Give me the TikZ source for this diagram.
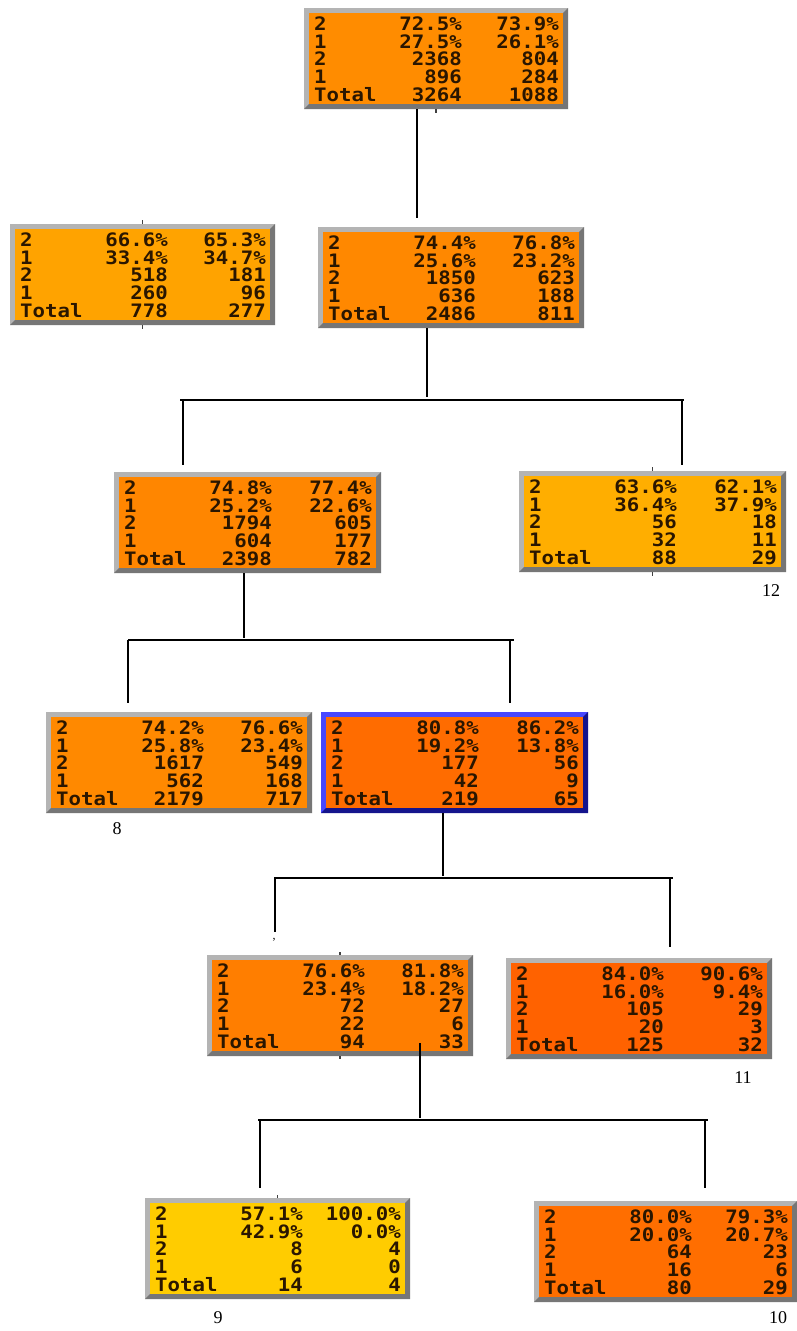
\documentclass[tikz,border=0pt]{standalone}
\usepackage{fontspec}
\newfontfamily\boxfont[FakeStretch=1.12]{DejaVu Sans Mono}
\newfontfamily\lblfont{Liberation Serif}
\definecolor{framegray}{HTML}{9C9C9C}
\definecolor{bevL}{HTML}{B4B4B4}
\definecolor{bevD}{HTML}{767676}
\definecolor{blueM}{HTML}{2F2FE0}
\definecolor{blueL}{HTML}{4848FF}
\definecolor{blueD}{HTML}{14148C}
\definecolor{txt}{HTML}{2A1600}
\definecolor{cRoot}{HTML}{FF8C00}
\definecolor{cA}{HTML}{FFA300}
\definecolor{cB}{HTML}{FF8800}
\definecolor{cC}{HTML}{FF8600}
\definecolor{cD}{HTML}{FFAE00}
\definecolor{cE}{HTML}{FF8900}
\definecolor{cF}{HTML}{FF6C00}
\definecolor{cG}{HTML}{FF7E00}
\definecolor{cH}{HTML}{FF6200}
\definecolor{cI}{HTML}{FFCC00}
\definecolor{cJ}{HTML}{FF6E00}
\tikzset{
  tbox/.style={anchor=north west, minimum height=101pt, inner sep=0pt, outer sep=0pt, draw=none, fill=framegray},
  bevlight/.style={fill=bevL},
  bevdark/.style={fill=bevD},
  cell/.style={font=\boxfont\bfseries\fontsize{18.5}{19}\selectfont, text=txt, inner sep=0pt},
  link/.style={line width=2.4pt, black},
  tick/.style={line width=1.4pt, black!75},
  lbl/.style={font=\lblfont\fontsize{18}{19}\selectfont, inner sep=0pt}
}
\newcommand\tbox[6]{%
  \node[tbox, minimum width=#4pt] (#1) at (#2,#3) {};
  \fill[bevlight] (#1.north west) -- (#1.north east) -- ([shift={(-5,5)}]#1.north east)
     -- ([shift={(5,5)}]#1.north west) -- ([shift={(5,-5)}]#1.south west) -- (#1.south west) -- cycle;
  \fill[bevdark] (#1.south east) -- (#1.north east) -- ([shift={(-5,5)}]#1.north east)
     -- ([shift={(-5,-5)}]#1.south east) -- ([shift={(5,-5)}]#1.south west) -- (#1.south west) -- cycle;
  \fill[#5] ([shift={(5,5)}]#1.north west) rectangle ([shift={(-5,-5)}]#1.south east);
  \foreach \a/\b/\c [count=\i] in {#6} {
    \pgfmathsetmacro\ry{4.5+17.75*\i}
    \node[cell, anchor=base west] at ([shift={(10,\ry)}]#1.north west) {\a};
    \node[cell, anchor=base east] at ([shift={(158,\ry)}]#1.north west) {\b};
    \node[cell, anchor=base east] at ([shift={(-9,\ry)}]#1.north east) {\c};
  }
}
\begin{document}
\begin{tikzpicture}[x=1pt,y=-1pt]
\useasboundingbox (0,0) rectangle (796,1331);
\fill[white] (0,0) rectangle (796,1331);

\tbox{root}{304}{8}{264}{cRoot}{2/72.5\%/73.9\%, 1/27.5\%/26.1\%, 2/2368/804, 1/896/284, Total/3264/1088}
\tbox{na}{10}{224}{265}{cA}{2/66.6\%/65.3\%, 1/33.4\%/34.7\%, 2/518/181, 1/260/96, Total/778/277}
\tbox{nb}{318}{227}{266}{cB}{2/74.4\%/76.8\%, 1/25.6\%/23.2\%, 2/1850/623, 1/636/188, Total/2486/811}
\tbox{nc}{114}{472}{267}{cC}{2/74.8\%/77.4\%, 1/25.2\%/22.6\%, 2/1794/605, 1/604/177, Total/2398/782}
\tbox{nd}{519}{471}{267}{cD}{2/63.6\%/62.1\%, 1/36.4\%/37.9\%, 2/56/18, 1/32/11, Total/88/29}
\tbox{ne}{46}{712}{266}{cE}{2/74.2\%/76.6\%, 1/25.8\%/23.4\%, 2/1617/549, 1/562/168, Total/2179/717}
\begin{scope}[bevlight/.style={fill=blueL}, bevdark/.style={fill=blueD}, tbox/.append style={fill=blueM}]
\tbox{nf}{321}{712}{267}{cF}{2/80.8\%/86.2\%, 1/19.2\%/13.8\%, 2/177/56, 1/42/9, Total/219/65}
\end{scope}
\tbox{ng}{207}{955}{266}{cG}{2/76.6\%/81.8\%, 1/23.4\%/18.2\%, 2/72/27, 1/22/6, Total/94/33}
\tbox{nh}{506}{958}{266}{cH}{2/84.0\%/90.6\%, 1/16.0\%/9.4\%, 2/105/29, 1/20/3, Total/125/32}
\tbox{ni}{145}{1198}{265}{cI}{2/57.1\%/100.0\%, 1/42.9\%/0.0\%, 2/8/4, 1/6/0, Total/14/4}
\tbox{nj}{534}{1201}{263}{cJ}{2/80.0\%/79.3\%, 1/20.0\%/20.7\%, 2/64/23, 1/16/6, Total/80/29}

% small ticks on box edges
\draw[tick] (root.south) -- ++(0,4);
\draw[tick] (na.north) -- ++(0,-4);
\draw[tick] (na.south) -- ++(0,4);
\draw[tick] (nd.north) -- ++(0,-4);
\draw[tick] (nd.south) -- ++(0,4);
\draw[tick] (ng.north) -- ++(0,-3);
\draw[tick] (ng.south) -- ++(0,3);
\draw[tick] (ni.north) -- ++(0,-3);

% connectors
\coordinate (a1) at (417,218);
\draw[link] (root.south -| a1) -- (a1);

\coordinate (b0) at (427,397);
\coordinate (b1) at (180,400);
\coordinate (b2) at (684,400);
\coordinate (b3) at (183,465);
\coordinate (b4) at (682,465);
\draw[link] (nb.south -| b0) -- (b0);
\draw[link] (b1) -- (b2);
\draw[link] (b1 -| b3) -- (b3);
\draw[link] (b2 -| b4) -- (b4);

\coordinate (c0) at (244,638);
\coordinate (c1) at (128,640);
\coordinate (c2) at (514,640);
\coordinate (c3) at (128,703);
\coordinate (c4) at (510,703);
\draw[link] (nc.south -| c0) -- (c0);
\draw[link] (c1) -- (c2);
\draw[link] (c1) -- (c3);
\draw[link] (c2 -| c4) -- (c4);

\coordinate (d0) at (443,876);
\coordinate (d1) at (274,878);
\coordinate (d2) at (673,878);
\coordinate (d3) at (275,932);
\coordinate (d4) at (670,947);
\draw[link] (nf.south -| d0) -- (d0);
\draw[link] (d1) -- (d2);
\draw[link] (d1 -| d3) -- (d3);
\draw[link] (d2 -| d4) -- (d4);
\node[font=\lblfont\fontsize{12}{12}\selectfont, inner sep=0pt] (comma) at (274,940) {,};

\coordinate (e0) at (420,1043);
\coordinate (e1) at (420,1118);
\coordinate (e2) at (258,1120);
\coordinate (e3) at (708,1120);
\coordinate (e4) at (260,1188);
\coordinate (e5) at (705,1188);
\draw[link] (e0) -- (e1);
\draw[link] (e2) -- (e3);
\draw[link] (e2 -| e4) -- (e4);
\draw[link] (e3 -| e5) -- (e5);

% labels
\node[lbl] (l12) at (771,591) {12};
\node[lbl] (l8) at (117,829) {8};
\node[lbl] (l11) at (743,1078) {11};
\node[lbl] (l9) at (218,1318) {9};
\node[lbl] (l10) at (778,1318) {10};
\end{tikzpicture}
\end{document}
